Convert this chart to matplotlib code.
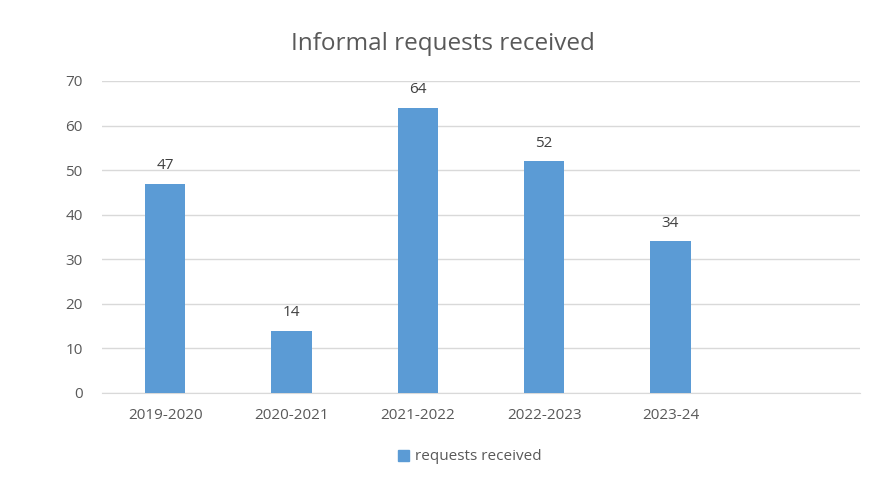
import matplotlib
matplotlib.use("Agg")
import matplotlib.pyplot as plt
from matplotlib.patches import Patch

categories = ["2019-2020", "2020-2021", "2021-2022", "2022-2023", "2023-24", ""]
values = [47, 14, 64, 52, 34, None]
series_name = "requests received"
yticks = [0, 10, 20, 30, 40, 50, 60, 70]

plt.rcParams['font.family'] = ['Open Sans', 'DejaVu Sans']
text_color = "#595959"
bar_color = "#5B9BD5"

fig = plt.figure(figsize=(8.85, 5.04), dpi=100)
ax = fig.add_axes([102/885, 111/504, 758/885, 312/504])

xs = list(range(len(categories)))
bx = [x for x, v in zip(xs, values) if v is not None]
bv = [v for v in values if v is not None]
bars = ax.bar(bx, bv, width=0.32, color=bar_color, zorder=3)
for x, v in zip(bx, bv):
    ax.annotate(str(v), (x, v), xytext=(0, 7.5), textcoords="offset points",
                ha="center", va="bottom", fontsize=11, color="#404040")

ax.set_xlim(-0.5, len(categories) - 0.5)
ax.set_ylim(0, 70)
ax.set_yticks(yticks)
ax.set_xticks(xs)
ax.set_xticklabels(categories)
ax.tick_params(axis="both", length=0, colors=text_color, labelsize=11)
ax.tick_params(axis="y", pad=14)
ax.tick_params(axis="x", pad=11)
ax.grid(axis="y", color="#D9D9D9", linewidth=1, zorder=0)
for s in ["top", "right", "left"]:
    ax.spines[s].set_visible(False)
ax.spines["bottom"].set_color("#D9D9D9")

fig.text(0.5, 1 - 44/504, "Informal requests received", ha="center", va="center",
         fontsize=17.5, color=text_color)

fig.legend(handles=[Patch(color=bar_color, label=series_name)], loc="center",
           bbox_to_anchor=(470/885, 1 - 457/504), frameon=False, fontsize=11,
           handlelength=0.7, handleheight=0.7, handletextpad=0.4, labelcolor=text_color)

fig.savefig("out.png", dpi=100)
